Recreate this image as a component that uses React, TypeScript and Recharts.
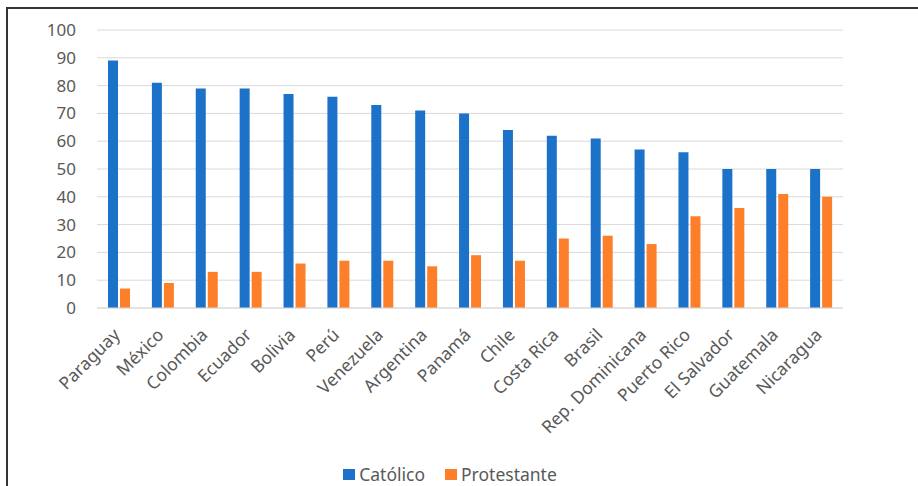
import React from 'react';
import { BarChart, Bar, XAxis, YAxis, CartesianGrid, Legend } from 'recharts';

const countries = [
  'Paraguay', 'México', 'Colombia', 'Ecuador', 'Bolivia', 'Perú', 'Venezuela', 'Argentina', 'Panamá',
  'Chile', 'Costa Rica', 'Brasil', 'Rep. Dominicana', 'Puerto Rico', 'El Salvador', 'Guatemala', 'Nicaragua',
];
const catolico = [89, 81, 79, 79, 77, 76, 73, 71, 70, 64, 62, 61, 57, 56, 50, 50, 50];
const protestante = [7, 9, 13, 13, 16, 17, 17, 15, 19, 17, 25, 26, 23, 33, 36, 41, 40];
const yTicks = [0, 10, 20, 30, 40, 50, 60, 70, 80, 90, 100];

const BLUE = '#1c71c9';
const ORANGE = '#fe7f2a';
const FONT = '"Noto Sans", sans-serif';

const data = countries.map((c, i) => ({ pais: c, cat: catolico[i], prot: protestante[i] }));

const CountryTick = (props: any) => {
  const { x, y, payload } = props;
  return (
    <g transform={`translate(${x + 2},${y + 20})`}>
      <text textAnchor="end" transform="rotate(-45)" fill="#595959" fontSize={17.5} fontFamily={FONT}>
        {payload.value}
      </text>
    </g>
  );
};

const LegendBox = () => (
  <div style={{ display: 'flex', justifyContent: 'center', alignItems: 'center', fontFamily: FONT, fontSize: 17.5, color: '#595959', lineHeight: '20px', height: 20 }}>
    <span style={{ width: 12, height: 11, background: BLUE, display: 'inline-block', marginRight: 4 }} />
    <span style={{ marginRight: 20 }}>Católico</span>
    <span style={{ width: 12, height: 11, background: ORANGE, display: 'inline-block', marginRight: 4 }} />
    <span>Protestante</span>
  </div>
);

export default function App() {
  return (
    <div style={{ position: 'fixed', left: 0, top: 0, width: 918, height: 486, overflow: 'hidden', background: '#fff' }}>
      <div style={{ position: 'absolute', left: 0, top: 0 }}>
        <BarChart
          width={918}
          height={486}
          data={data}
          margin={{ top: 30, right: 75, left: 37, bottom: 0 }}
          barSize={10}
          barGap={2}
        >
          <CartesianGrid vertical={false} stroke="#d9d9d9" />
          <XAxis
            dataKey="pais"
            interval={0}
            height={158}
            tick={<CountryTick />}
            tickLine={false}
            axisLine={{ stroke: '#d9d9d9' }}
          />
          <YAxis
            width={60}
            domain={[0, 100]}
            ticks={yTicks}
            axisLine={false}
            tickLine={false}
            tickMargin={15}
            tick={{ fill: '#595959', fontSize: 17, fontFamily: FONT }}
          />
          <Legend
            content={<LegendBox />}
            wrapperStyle={{ position: 'absolute', left: 0, top: 464, width: 900, height: 20 }}
          />
          <Bar dataKey="cat" name="Católico" fill={BLUE} isAnimationActive={false} />
          <Bar dataKey="prot" name="Protestante" fill={ORANGE} isAnimationActive={false} />
        </BarChart>
      </div>
      <div style={{ position: 'absolute', left: 6, top: 7, width: 2, height: 479, background: '#333', zIndex: 5 }} />
      <div style={{ position: 'absolute', left: 6, top: 7, width: 912, height: 2, background: '#333', zIndex: 5 }} />
    </div>
  );
}
